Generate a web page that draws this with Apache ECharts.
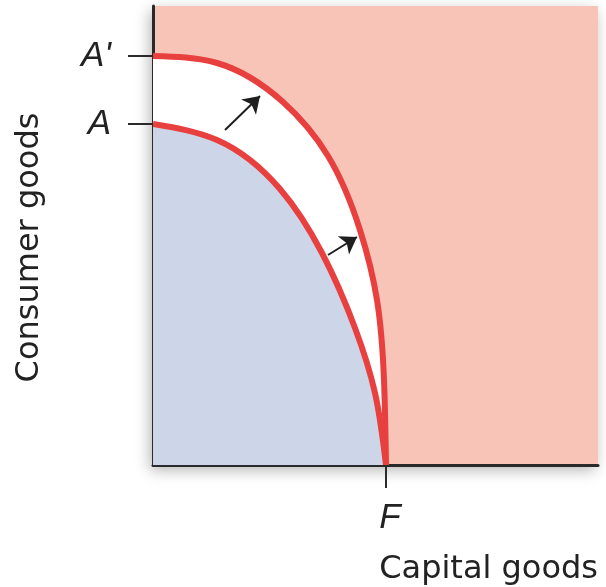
<!DOCTYPE html>
<html>
<head>
<meta charset="utf-8">
<script src="https://cdn.jsdelivr.net/npm/echarts@6/dist/echarts.min.js"></script>
<style>
html,body{margin:0;padding:0;background:#fff;}
#chart{width:606px;height:587px;}
</style>
</head>
<body>
<div id="chart"></div>
<script>
// Axis extents (data units)
const xMax = 445;
const yMax = 459;

// Tick positions and labels
const yTickValues = [341, 409];
const yTickLabels = ['A', "A'"];
const xTickValues = [233];
const xTickLabels = ['F'];

// Outer frontier (A' -> F)
const outerX = [0, 64, 130, 175, 207, 224, 231, 233];
const outerY = [409, 402, 363, 309, 235, 165, 85, 0];

// Inner frontier (A -> F)
const innerX = [0, 64, 127, 169, 202, 222, 233];
const innerY = [341, 325, 276, 212, 137, 72, 0];

// Shift arrows [tailX, tailY, tipX, tipY]
const arrow1 = [72, 335, 107, 369];
const arrow2 = [175, 210, 204, 228];

const zip = (xs, ys) => xs.map((x, i) => [x, ys[i]]);

// Smooth curve through pixel points (natural cubic spline -> bezier path commands)
function splineCommands(pts) {
  const n = pts.length;
  const h = [];
  for (let i = 0; i < n - 1; i++) {
    h.push(Math.hypot(pts[i + 1][0] - pts[i][0], pts[i + 1][1] - pts[i][1]) || 1);
  }
  const M = [[], []];
  for (let c = 0; c < 2; c++) {
    const y = pts.map(p => p[c]);
    const m = new Array(n).fill(0);
    if (n > 2) {
      const a = [], b = [], cc = [], d = [];
      for (let i = 1; i < n - 1; i++) {
        a.push(h[i - 1]);
        b.push(2 * (h[i - 1] + h[i]));
        cc.push(h[i]);
        d.push(6 * ((y[i + 1] - y[i]) / h[i] - (y[i] - y[i - 1]) / h[i - 1]));
      }
      const k = a.length;
      for (let i = 1; i < k; i++) {
        const w = a[i] / b[i - 1];
        b[i] -= w * cc[i - 1];
        d[i] -= w * d[i - 1];
      }
      const sol = new Array(k);
      sol[k - 1] = d[k - 1] / b[k - 1];
      for (let i = k - 2; i >= 0; i--) sol[i] = (d[i] - cc[i] * sol[i + 1]) / b[i];
      for (let i = 0; i < k; i++) m[i + 1] = sol[i];
    }
    M[c] = m;
  }
  let path = 'M' + pts[0][0] + ' ' + pts[0][1];
  for (let i = 0; i < n - 1; i++) {
    const cp1 = [], cp2 = [];
    for (let c = 0; c < 2; c++) {
      const y0 = pts[i][c], y1 = pts[i + 1][c];
      const D0 = (y1 - y0) / h[i] - h[i] * (2 * M[c][i] + M[c][i + 1]) / 6;
      const D1 = (y1 - y0) / h[i] + h[i] * (M[c][i] + 2 * M[c][i + 1]) / 6;
      cp1.push(y0 + D0 * h[i] / 3);
      cp2.push(y1 - D1 * h[i] / 3);
    }
    path += ' C' + cp1[0] + ' ' + cp1[1] + ' ' + cp2[0] + ' ' + cp2[1] + ' ' + pts[i + 1][0] + ' ' + pts[i + 1][1];
  }
  return path;
}

function frontierRenderer(kind, fillColor) {
  return function (params, api) {
    if (params.dataIndexInside !== 0) return null;
    const len = params.dataInsideLength;
    const pts = [];
    for (let i = 0; i < len; i++) pts.push(api.coord([api.value(0, i), api.value(1, i)]));
    const curve = splineCommands(pts);
    if (kind === 'fill') {
      const base0 = api.coord([api.value(0, 0), 0]);
      const baseN = api.coord([api.value(0, len - 1), 0]);
      const d = curve + ' L' + baseN[0] + ' ' + baseN[1] + ' L' + base0[0] + ' ' + base0[1] + ' Z';
      return { type: 'path', shape: { pathData: d }, style: { fill: fillColor, stroke: null } };
    }
    return {
      type: 'path', shape: { pathData: curve },
      style: { fill: 'none', stroke: '#E8403F', lineWidth: 6, lineJoin: 'round', lineCap: 'butt' }
    };
  };
}

const chart = echarts.init(document.getElementById('chart'));
const labelFont = '"Liberation Sans", Arial, Helvetica, sans-serif';
const nameFont = '"DejaVu Sans", "Liberation Sans", sans-serif';

chart.setOption({
  animation: false,
  grid: {
    left: 153, top: 6, right: 8, bottom: 122,
    outerBoundsMode: 'none',
    containLabel: false,
    show: true,
    backgroundColor: '#F7C4B7',
    borderWidth: 0,
    shadowColor: 'rgba(0,0,0,0.3)',
    shadowBlur: 14,
    shadowOffsetX: -3,
    shadowOffsetY: 5
  },
  xAxis: {
    type: 'value', min: 0, max: xMax,
    name: 'Capital goods',
    nameLocation: 'end',
    nameGap: 0,
    nameTextStyle: {
      fontFamily: nameFont, fontSize: 32, color: '#222',
      align: 'right', verticalAlign: 'top',
      padding: [89, 0, 0, 0]
    },
    axisLine: { show: true, onZero: false, lineStyle: { color: '#2a2a2a', width: 3 } },
    axisTick: { show: true, length: 23, customValues: xTickValues, lineStyle: { color: '#2a2a2a', width: 2 } },
    axisLabel: {
      show: true, customValues: xTickValues, margin: 36,
      formatter: v => xTickLabels[xTickValues.indexOf(v)] || '',
      fontFamily: labelFont, fontSize: 35, fontStyle: 'italic', color: '#222',
      padding: [0, 0, 0, 8]
    },
    splitLine: { show: false }
  },
  yAxis: {
    type: 'value', min: 0, max: yMax,
    name: 'Consumer goods',
    nameLocation: 'middle',
    nameRotate: 90,
    nameGap: 107,
    nameTextStyle: {
      fontFamily: nameFont, fontSize: 32, color: '#222',
      padding: [0, 24, 0, 0]
    },
    axisLine: { show: true, onZero: false, lineStyle: { color: '#2a2a2a', width: 3 } },
    axisTick: { show: true, length: 25, customValues: yTickValues, lineStyle: { color: '#2a2a2a', width: 2 } },
    axisLabel: {
      show: true, customValues: yTickValues, margin: 42,
      formatter: v => yTickLabels[yTickValues.indexOf(v)] || '',
      fontFamily: labelFont, fontSize: 35, fontStyle: 'italic', color: '#222'
    },
    splitLine: { show: false }
  },
  series: [
    {
      type: 'custom', name: 'Outer area', coordinateSystem: 'cartesian2d', clip: true, z: 2,
      data: zip(outerX, outerY),
      renderItem: frontierRenderer('fill', '#FFFFFF')
    },
    {
      type: 'custom', name: 'Inner area', coordinateSystem: 'cartesian2d', clip: true, z: 3,
      data: zip(innerX, innerY),
      renderItem: frontierRenderer('fill', '#CDD6E8')
    },
    {
      type: 'custom', name: 'Outer frontier', coordinateSystem: 'cartesian2d', clip: true, z: 4,
      data: zip(outerX, outerY),
      renderItem: frontierRenderer('line')
    },
    {
      type: 'custom', name: 'Inner frontier', coordinateSystem: 'cartesian2d', clip: true, z: 4,
      data: zip(innerX, innerY),
      renderItem: frontierRenderer('line')
    },
    {
      type: 'lines', coordinateSystem: 'cartesian2d', z: 5,
      symbol: ['none', 'arrow'], symbolSize: [13, 16],
      lineStyle: { color: '#1e1e1e', width: 2, opacity: 1 },
      data: [
        { coords: [[arrow1[0], arrow1[1]], [arrow1[2], arrow1[3]]] },
        { coords: [[arrow2[0], arrow2[1]], [arrow2[2], arrow2[3]]] }
      ]
    }
  ]
});
</script>
</body>
</html>
